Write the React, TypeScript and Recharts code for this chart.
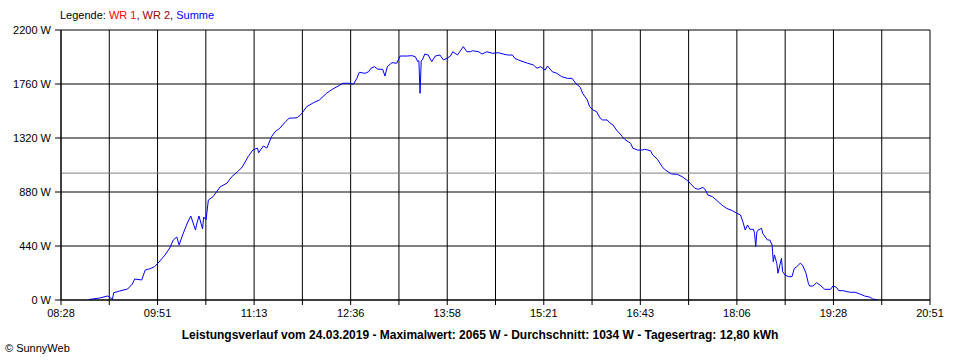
import { LineChart, Line, XAxis, YAxis, CartesianGrid, ReferenceLine } from "recharts";

// Leistung "Summe" (W)
const times = [
    "08:52", "09:01", "09:08", "09:12", "09:13", "09:18", "09:25", "09:29", "09:31", "09:37", "09:40", "09:44", "09:48", "09:51", "09:57",
    "10:01", "10:04", "10:07", "10:09", "10:12", "10:16", "10:19", "10:23", "10:24", "10:26", "10:29", "10:30", "10:32", "10:34", "10:38", "10:44", "10:50", "10:54", "10:59",
    "11:03", "11:08", "11:12", "11:16", "11:17", "11:21", "11:24", "11:28", "11:31", "11:35", "11:40", "11:43", "11:50", "11:54", "11:58",
    "12:04", "12:09", "12:15", "12:20", "12:24", "12:29", "12:35", "12:38", "12:41", "12:43", "12:48", "12:51", "12:53", "12:56", "12:59",
    "13:03", "13:05", "13:07", "13:11", "13:15", "13:18", "13:24", "13:28", "13:31", "13:33", "13:34", "13:35", "13:36", "13:37", "13:39", "13:42", "13:45", "13:48", "13:52", "13:55", "13:58",
    "14:01", "14:03", "14:07", "14:12", "14:15", "14:18", "14:20", "14:25", "14:28", "14:32", "14:37", "14:42", "14:46", "14:50", "14:54", "14:56", "14:59",
    "15:03", "15:07", "15:12", "15:15", "15:18", "15:22", "15:24", "15:28", "15:32", "15:36", "15:41", "15:45", "15:48", "15:52", "15:54", "15:58",
    "16:00", "16:03", "16:06", "16:09", "16:11", "16:15", "16:17", "16:20", "16:23", "16:28", "16:30", "16:35", "16:37", "16:41", "16:45", "16:47", "16:52", "16:54", "16:58",
    "17:02", "17:04", "17:07", "17:10", "17:15", "17:19", "17:23", "17:26", "17:30", "17:33", "17:37", "17:39", "17:41", "17:45", "17:49", "17:53", "17:57",
    "18:02", "18:05", "18:09", "18:11", "18:13", "18:15", "18:17", "18:20", "18:21", "18:22", "18:23", "18:24", "18:27", "18:28", "18:32", "18:34", "18:36", "18:37", "18:38", "18:40", "18:41", "18:44", "18:45", "18:47", "18:50", "18:53", "18:55", "18:57",
    "19:00", "19:02", "19:05", "19:07", "19:08", "19:11", "19:14", "19:17", "19:21", "19:26", "19:28", "19:31", "19:33", "19:37", "19:40", "19:43", "19:47", "19:51", "19:55",
    "20:00", "20:02", "20:06",
];

const summe = [
    4, 16, 33, 5, 59, 73, 90, 130, 171, 163, 244, 255, 271, 301, 367,
    424, 489, 513, 448, 530, 627, 684, 570, 619, 684, 579, 676, 652, 815, 842, 921, 953, 1005, 1045,
    1084, 1168, 1222, 1238, 1200, 1255, 1238, 1331, 1371, 1399, 1453, 1481, 1485, 1521, 1575,
    1608, 1630, 1684, 1717, 1738, 1766, 1766, 1758, 1806, 1855, 1847, 1860, 1888, 1901, 1880,
    1880, 1825, 1901, 1934, 1929, 1988, 1988, 1991, 1982, 1942, 1950, 1684, 1950, 1956, 2004, 1996, 1942, 1988, 1996, 1956, 1969,
    1988, 2023, 1996, 2065, 2023, 2023, 2031, 2023, 2004, 2023, 2010, 2015, 2004, 1996, 1996, 1969, 1956,
    1942, 1929, 1915, 1888, 1901, 1874, 1907, 1860, 1847, 1820, 1806, 1806, 1766, 1733, 1684, 1630,
    1575, 1548, 1534, 1481, 1467, 1467, 1445, 1426, 1385, 1331, 1309, 1277, 1236, 1222, 1222, 1228, 1217, 1181, 1146,
    1086, 1065, 1045, 1027, 1024, 1005, 978, 951, 910, 902, 918, 896, 856, 842, 809, 774, 747,
    728, 711, 693, 638, 570, 611, 576, 576, 543, 434, 555, 570, 584, 543, 489, 489, 448, 312, 367, 299, 218, 340, 231, 204, 190, 190, 258, 271,
    299, 285, 218, 136, 114, 114, 141, 122, 87, 87, 114, 103, 76, 76, 68, 63, 63, 49, 33,
    22, 8, 2,
];

const yTicks = [0, 440, 880, 1320, 1760, 2200];
const xTickLabels = ["08:28", "09:51", "11:13", "12:36", "13:58", "15:21", "16:43", "18:06", "19:28", "20:51"];
const average = 1034;

const toMin = (t: string) => {
    const [h, m] = t.split(":").map(Number);
    return h * 60 + m;
};

const data = times.map((t, i) => ({ t: toMin(t), summe: summe[i] }));

// grid has a line between each labelled tick
const xStart = toMin(xTickLabels[0]);
const xEnd = toMin(xTickLabels[xTickLabels.length - 1]);
const steps = (xTickLabels.length - 1) * 2;
const xTicks = Array.from({ length: steps + 1 }, (_, i) => xStart + (i * (xEnd - xStart)) / steps);

const font = "'Liberation Sans', Arial, sans-serif";

export default function App() {
    return (
        <div style={{ position: "absolute", left: 0, top: 0, width: 960, height: 360, background: "#fff" }}>
            <LineChart
                width={960}
                height={360}
                data={data}
                margin={{ top: 30, right: 30, left: 0, bottom: 30 }}
                style={{ fontFamily: font }}
            >
                <CartesianGrid stroke="#000" strokeWidth={1} />
                <XAxis
                    dataKey="t"
                    type="number"
                    domain={[xStart, xEnd]}
                    ticks={xTicks}
                    interval={0}
                    height={30}
                    tickSize={5}
                    tickMargin={4}
                    stroke="#000"
                    tick={{ fill: "#000", fontSize: 11 }}
                    tickFormatter={(v: number) => {
                        const i = Math.round(((v - xStart) / (xEnd - xStart)) * steps);
                        return i % 2 === 0 ? xTickLabels[i / 2] : "";
                    }}
                />
                <YAxis
                    type="number"
                    domain={[0, 2200]}
                    ticks={yTicks}
                    interval={0}
                    width={61}
                    tickSize={6}
                    tickMargin={4}
                    stroke="#000"
                    tick={{ fill: "#000", fontSize: 11 }}
                    tickFormatter={(v: number) => `${v} W`}
                />
                <ReferenceLine y={average} stroke="#808080" strokeWidth={1} />
                <Line
                    type="linear"
                    dataKey="summe"
                    stroke="#0000ff"
                    strokeWidth={1}
                    dot={false}
                    isAnimationActive={false}
                />
            </LineChart>
            {/* legend */}
            <div
                style={{
                    position: "absolute",
                    top: 9,
                    left: 60,
                    fontFamily: font,
                    fontSize: 11,
                    color: "#000",
                    whiteSpace: "nowrap",
                }}
            >
                Legende: <span style={{ color: "#ff0000" }}>WR 1</span>, <span style={{ color: "#990000" }}>WR 2</span>,{" "}
                <span style={{ color: "#0000ff" }}>Summe</span>
            </div>
            <div
                style={{
                    position: "absolute",
                    top: 328,
                    left: 0,
                    width: 960,
                    textAlign: "center",
                    fontFamily: font,
                    fontSize: 12,
                    fontWeight: "bold",
                    color: "#000",
                    whiteSpace: "nowrap",
                }}
            >
                Leistungsverlauf vom 24.03.2019 - Maximalwert: 2065 W - Durchschnitt: 1034 W - Tagesertrag: 12,80 kWh
            </div>
            <div style={{ position: "absolute", top: 342, left: 5, fontFamily: font, fontSize: 11, color: "#000" }}>
                © SunnyWeb
            </div>
        </div>
    );
}
